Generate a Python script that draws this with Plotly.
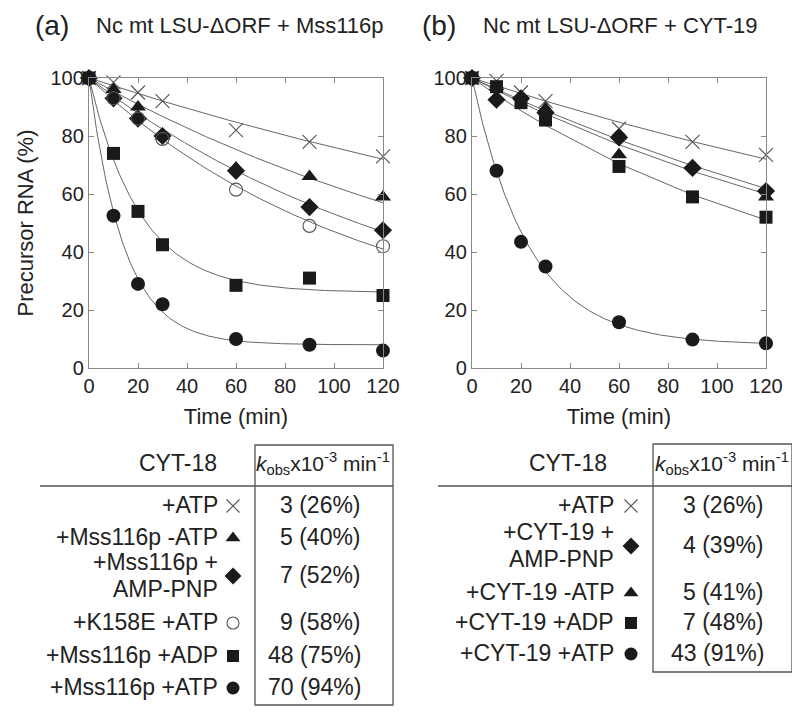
import numpy as np
import plotly.graph_objects as go

# the page body has an 8px margin; the figure is sized to fit the 800x712 window
PAGE_W, PAGE_H = 800, 712
OFF = 8
W, H = PAGE_W - OFF, PAGE_H - OFF
FONT = "Arial, Liberation Sans, Helvetica, sans-serif"
INK = "#222222"
GRAY = "#666666"

# ---------------- data ----------------
time_min = [0, 10, 20, 30, 60, 90, 120]

# Panel (a): Nc mt LSU-dORF + Mss116p
a_names = ["+ATP", "+Mss116p -ATP", "+Mss116p +<br>AMP-PNP", "+K158E +ATP", "+Mss116p +ADP", "+Mss116p +ATP"]
a_symbols = ["x-thin-open", "triangle-up", "diamond", "circle-open", "square", "circle"]
a_values = [
    [100, 98.5, 95, 92, 82, 78, 73],
    [100, 96, 90, 80, 69, 66, 59],
    [100, 93, 86, 80, 68, 55.5, 47.5],
    [100, 93, 86, 79, 61.5, 49, 42],
    [100, 74, 54, 42.5, 28.5, 31, 25],
    [100, 52.5, 29, 22, 10, 8, 6],
]
a_kobs = [3, 5, 7, 9, 48, 70]          # x10^-3 min^-1
a_pct = ["26%", "40%", "52%", "58%", "75%", "94%"]
a_plateau = [7.4, 4.7, 6.7, 10.7, 26, 8]   # fitted end-point (%)

# Panel (b): Nc mt LSU-dORF + CYT-19
b_names = ["+ATP", "+CYT-19 +<br>AMP-PNP", "+CYT-19 -ATP", "+CYT-19 +ADP", "+CYT-19 +ATP"]
b_symbols = ["x-thin-open", "diamond", "triangle-up", "square", "circle"]
b_values = [
    [100, 99, 95, 92, 82.5, 78, 73.5],
    [100, 92.5, 93, 88, 79.5, 69, 61],
    [100, 97, 93.5, 89.5, 73.5, 69.5, 59],
    [100, 97, 91.5, 85.5, 69.5, 59, 52],
    [100, 68, 43.5, 35, 15.8, 9.8, 8.5],
]
b_kobs = [3, 4, 5, 7, 43]
b_pct = ["26%", "39%", "41%", "48%", "91%"]
b_plateau = [7.4, 0, 11.3, 13.8, 8]
b_smooth = [False, False, False, False, True]

# ---------------- layout geometry (page pixels -> paper) ----------------
def px(x):
    return (x - OFF) / W

def py(y):
    return 1 - (y - OFF) / H

fig = go.Figure()

def fit_curve(k, plateau, smooth):
    t = np.linspace(0, 120, 241) if smooth else np.array(time_min, dtype=float)
    y = plateau + (100 - plateau) * np.exp(-k / 1000.0 * t)
    return t, y

def marker_style(sym):
    if sym == "x-thin-open":
        return dict(symbol=sym, size=14, color="#555555", line=dict(color="#555555", width=1.1))
    if sym == "circle-open":
        return dict(symbol=sym, size=13, color="#555555", line=dict(color="#555555", width=1.1))
    if sym == "diamond":
        return dict(symbol=sym, size=14, color="#1a1a1a", line=dict(width=0))
    if sym == "triangle-up":
        return dict(symbol=sym, size=14, color="#1a1a1a", line=dict(width=0))
    if sym == "square":
        return dict(symbol=sym, size=13, color="#1a1a1a", line=dict(width=0))
    return dict(symbol=sym, size=14, color="#1a1a1a", line=dict(width=0))

def add_panel(names, symbols, values, kobs, plateau, smooth, xa, ya):
    for i in range(len(names)):
        t, y = fit_curve(kobs[i], plateau[i], smooth[i])
        fig.add_trace(go.Scatter(x=t, y=y, mode="lines", line=dict(color=GRAY, width=1),
                                 xaxis=xa, yaxis=ya, showlegend=False, hoverinfo="skip",
                                 cliponaxis=False))
    for i in range(len(names)):
        fig.add_trace(go.Scatter(x=time_min, y=values[i], mode="markers",
                                 marker=marker_style(symbols[i]), name=names[i].replace("<br>", " "),
                                 xaxis=xa, yaxis=ya, showlegend=False, cliponaxis=False))

add_panel(a_names, a_symbols, a_values, a_kobs, a_plateau, [True] * 6, "x", "y")
add_panel(b_names, b_symbols, b_values, b_kobs, b_plateau, b_smooth, "x2", "y2")

axis_common = dict(
    range=[0, 120], tickvals=[0, 20, 40, 60, 80, 100, 120],
    showline=True, linecolor="#888888", linewidth=1.4, mirror="ticks",
    ticks="inside", ticklen=5, tickwidth=1, tickcolor="#888888",
    showgrid=False, zeroline=False, automargin=False,
    tickfont=dict(family=FONT, size=20, color=INK),
)
yaxis_common = dict(
    range=[0, 100], tickvals=[0, 20, 40, 60, 80, 100],
    showline=True, linecolor="#888888", linewidth=1.4, mirror="ticks",
    ticks="inside", ticklen=5, tickwidth=1, tickcolor="#888888",
    showgrid=False, zeroline=False, automargin=False,
    tickfont=dict(family=FONT, size=20, color=INK),
)

fig.update_layout(
    width=W, height=H,
    margin=dict(l=0, r=0, t=0, b=0, pad=0),
    paper_bgcolor="white", plot_bgcolor="rgba(0,0,0,0)",
    font=dict(family=FONT, color=INK),
    xaxis=dict(domain=[px(89), px(383)], anchor="y",
               title=dict(text="Time (min)", font=dict(size=22, color=INK), standoff=12),
               **axis_common),
    yaxis=dict(domain=[py(368), py(78)], anchor="x",
               title=dict(text="Precursor RNA (%)", font=dict(size=22, color=INK), standoff=10),
               **yaxis_common),
    xaxis2=dict(domain=[px(472), px(766)], anchor="y2",
                title=dict(text="Time (min)", font=dict(size=22, color=INK), standoff=12),
                **axis_common),
    yaxis2=dict(domain=[py(368), py(78)], anchor="x2", **yaxis_common),
    xaxis3=dict(domain=[0, 1], range=[OFF, PAGE_W], visible=False, anchor="y3", fixedrange=True,
                automargin=False),
    yaxis3=dict(domain=[0, 1], range=[PAGE_H, OFF], visible=False, anchor="x3", fixedrange=True,
                automargin=False),
)

annotations = []
shapes = []

def text(x, y, s, size=22, xanchor="center", color=INK, pad=1):
    annotations.append(dict(x=px(x), y=py(y), xref="paper", yref="paper", text=s,
                            showarrow=False, xanchor=xanchor, yanchor="middle", borderpad=pad,
                            font=dict(family=FONT, size=size, color=color)))

# panel titles
text(52, 25, "(a)", size=28, pad=0)
text(240, 25, "Nc mt LSU-\u0394ORF + Mss116p", size=22)
text(439, 25, "(b)", size=28, pad=0)
text(620, 25, "Nc mt LSU-\u0394ORF + CYT-19", size=22)

KHEAD = "<i>k</i><sub>obs</sub>x10<sup>-3</sup> min<sup>-1</sup>"

def add_table(names, symbols, kobs, pct, rows_y, hdr_x, label_right, marker_x, value_right,
              box, line_left, khead_x):
    x0, y0, x1, y1 = box
    shapes.append(dict(type="rect", xref="paper", yref="paper",
                       x0=px(x0), x1=px(x1), y0=py(y1), y1=py(y0),
                       line=dict(color="#555555", width=1.3)))
    shapes.append(dict(type="line", xref="paper", yref="paper",
                       x0=px(line_left), x1=px(x1), y0=py(486), y1=py(486),
                       line=dict(color="#555555", width=1.3)))
    text(hdr_x, 463, "CYT-18", size=23)
    text(khead_x, 463, KHEAD, size=21)
    for i, nm in enumerate(names):
        ry = rows_y[i]
        if "<br>" in nm:
            first, second = nm.split("<br>")
            text(label_right, ry - 13, first, size=23, xanchor="right")
            text(label_right, ry + 14, second, size=23, xanchor="right")
        else:
            text(label_right, ry, nm, size=23, xanchor="right")
        text(value_right, ry, f"{kobs[i]} ({pct[i]})", size=23, xanchor="right")
        st = marker_style(symbols[i])
        st["size"] = st["size"] - 1
        fig.add_trace(go.Scatter(x=[marker_x], y=[ry + 1], mode="markers", marker=st,
                                 xaxis="x3", yaxis="y3", showlegend=False,
                                 hoverinfo="skip", cliponaxis=False))

add_table(a_names, a_symbols, a_kobs, a_pct,
          rows_y=[505, 537, 575, 622, 655, 687], hdr_x=178, label_right=220,
          marker_x=233, value_right=363, box=(255, 445, 393, 705), line_left=40, khead_x=323)
add_table(b_names, b_symbols, b_kobs, b_pct,
          rows_y=[505, 545, 592, 622, 653], hdr_x=568, label_right=616,
          marker_x=631, value_right=766, box=(653, 444, 792, 672), line_left=438, khead_x=722)

fig.update_layout(annotations=annotations, shapes=shapes)

fig.write_html("out.html")
